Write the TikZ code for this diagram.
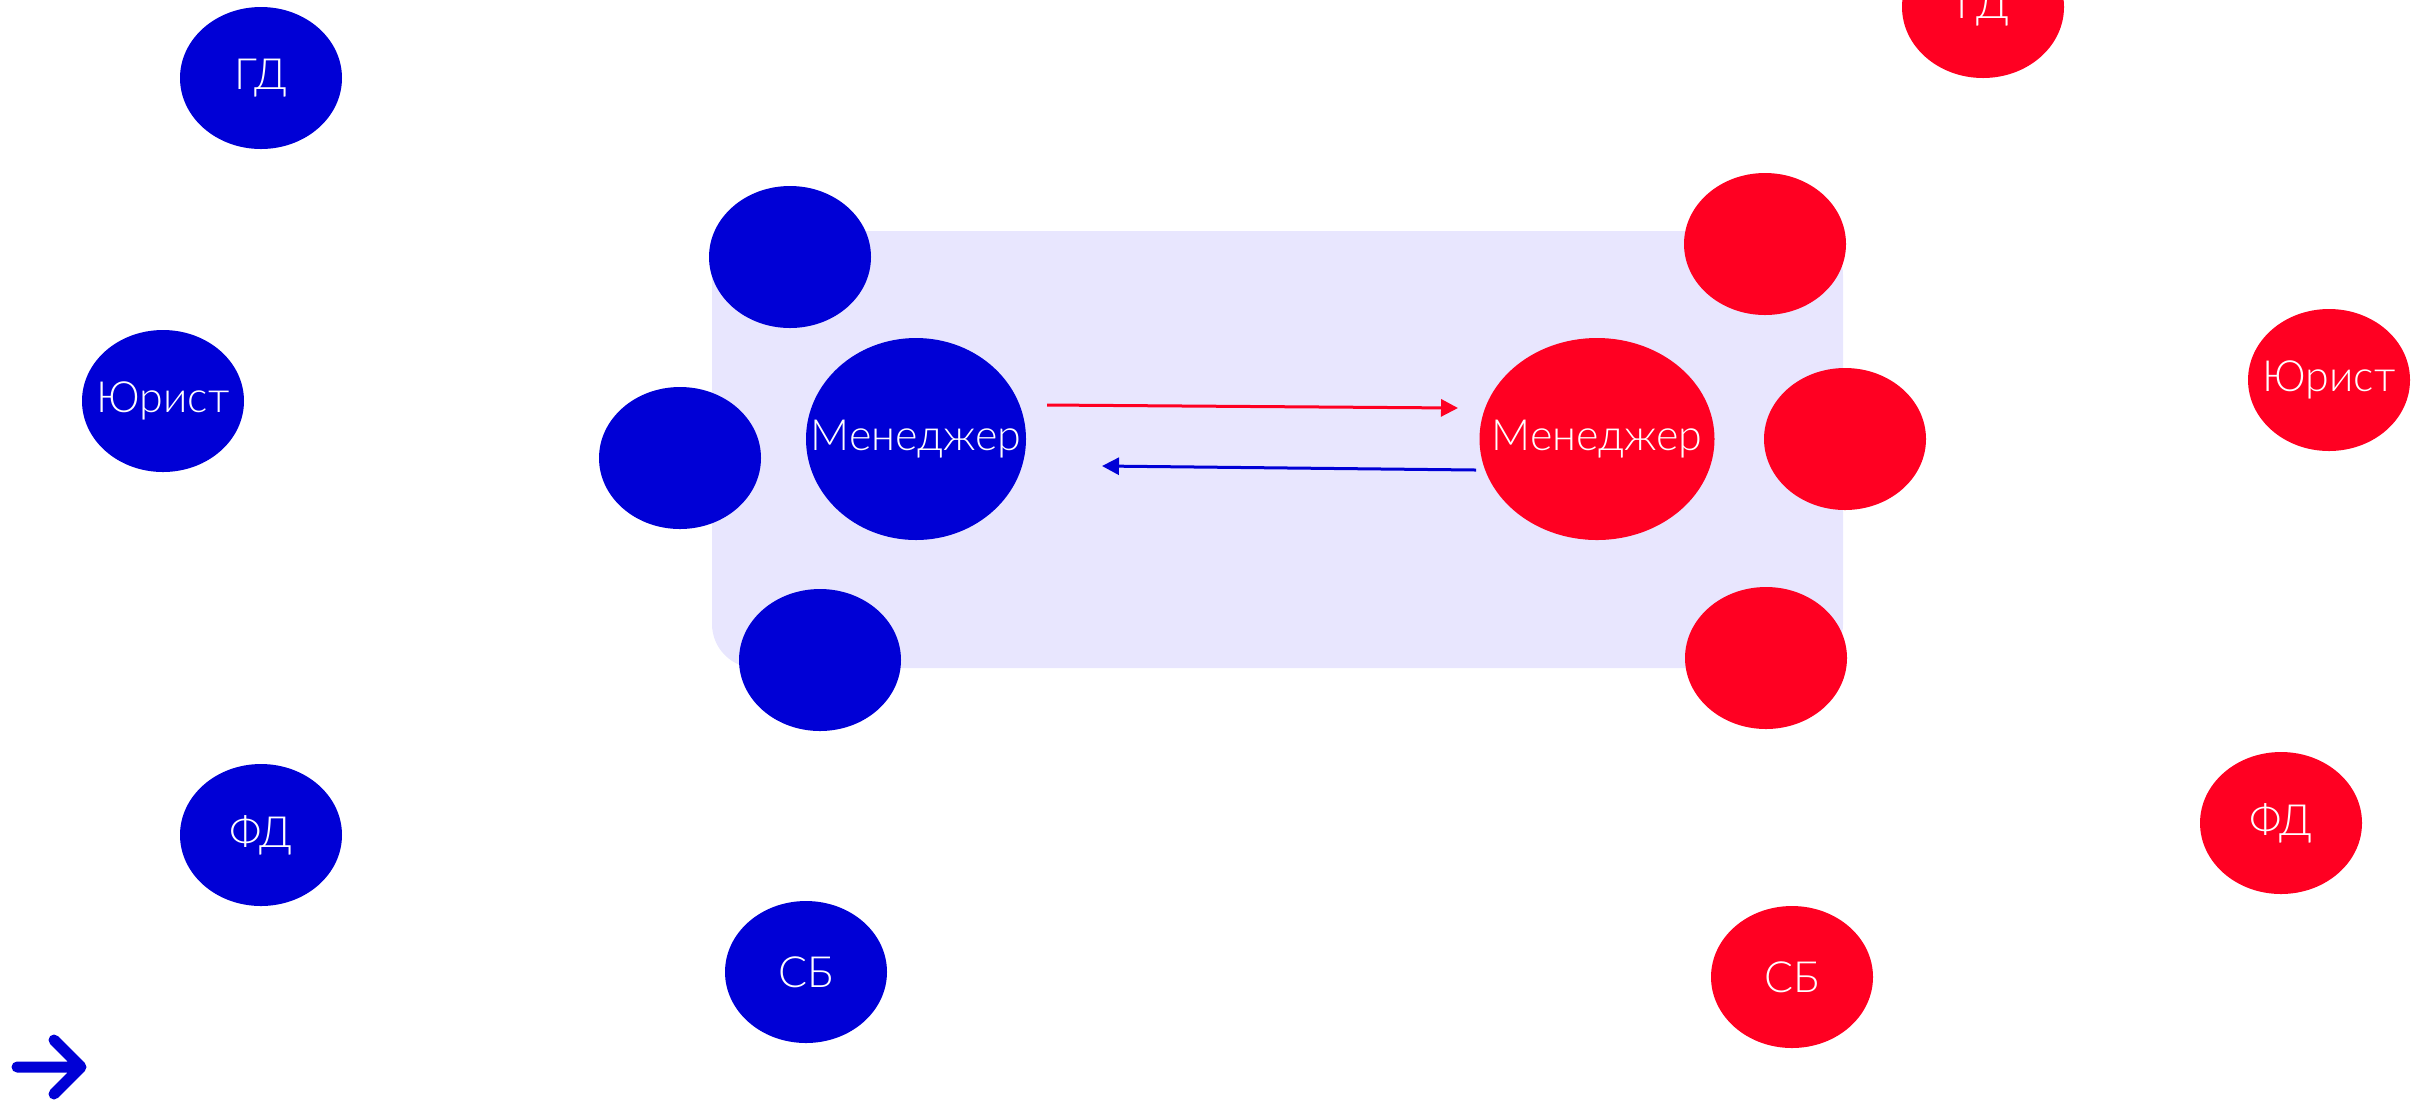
\documentclass[tikz,border=0pt]{standalone}
\usepackage{fontspec}
\setmainfont{Lato}[UprightFont=* Light]
\usetikzlibrary{shapes.geometric,arrows.meta}
\definecolor{cblue}{RGB}{0,0,214}
\definecolor{cred}{RGB}{255,0,34}
\definecolor{lav}{RGB}{232,230,254}
\tikzset{
  bubble/.style={ellipse,inner sep=0pt,minimum width=81pt,minimum height=71pt},
  txt/.style={label={[text=white,font=\fontsize{21.5}{24}\selectfont]center:#1}},
  bl/.style={bubble,fill=cblue},
  rd/.style={bubble,fill=cred},
  mgr/.style={minimum height=101pt},
  link/.style={line width=1.5pt,-{Triangle[length=8.5pt,width=8.5pt]}}
}
\begin{document}
\begin{tikzpicture}[x=0.5pt,y=-0.5pt]
\useasboundingbox (0,0) rectangle (2435,1100);
\fill[lav,rounded corners=22pt] (712,231) rectangle (1843,668);
% blue side
\node[bl,txt=ГД] (gdB) at (261,78) {};
\node[bl,txt=Юрист] (yurB) at (163,401) {};
\node[bl,txt=ФД] (fdB) at (261,835) {};
\node[bl,txt=СБ] (sbB) at (806,972) {};
\node[bl] (topB) at (790,257) {};
\node[bl] (leftB) at (680,458) {};
\node[bl] (botB) at (820,660) {};
\node[bl,mgr,minimum width=110pt,txt=Менеджер] (mgrB) at (916,439) {};
% red side
\node[rd,txt=ГД] (gdR) at (1983,7) {};
\node[rd,txt=Юрист] (yurR) at (2329,380) {};
\node[rd,txt=ФД] (fdR) at (2281,823) {};
\node[rd,txt=СБ] (sbR) at (1792,977) {};
\node[rd] (topR) at (1765,244) {};
\node[rd] (rightR) at (1845,439) {};
\node[rd] (botR) at (1766,658) {};
\node[rd,mgr,minimum width=117.5pt,txt=Менеджер] (mgrR) at (1597,439) {};
% arrows
\coordinate (r1) at (1047,405);
\coordinate (r2) at (1458,408);
\coordinate (b1) at (1476,470);
\coordinate (b2) at (1102,466);
\draw[link,cred] (r1) -- (r2);
\draw[link,cblue] (b1) -- (b2);
% nav arrow icon
\coordinate (n1) at (17,1067);
\coordinate (n2) at (81,1067);
\coordinate (n3) at (54,1040);
\coordinate (n4) at (54,1094);
\draw[cblue,line width=5.5pt,line cap=round,line join=round] (n1) -- (n2) (n3) -- (n2) -- (n4);
\end{tikzpicture}
\end{document}
